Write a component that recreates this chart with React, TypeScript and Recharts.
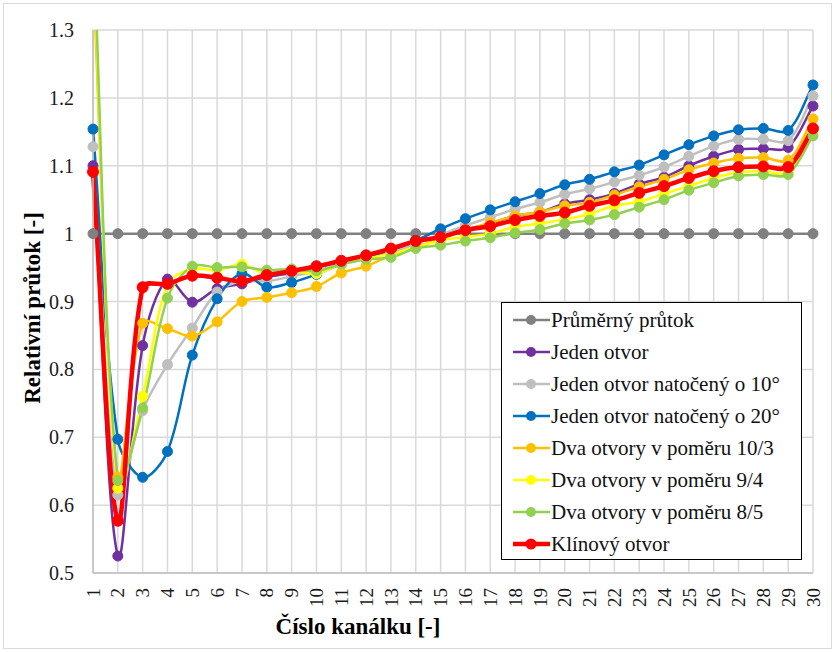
import { LineChart, Line, XAxis, YAxis, CartesianGrid, Legend } from 'recharts'

const kanalky = [1, 2, 3, 4, 5, 6, 7, 8, 9, 10, 11, 12, 13, 14, 15, 16, 17, 18, 19, 20, 21, 22, 23, 24, 25, 26, 27, 28, 29, 30]
const yTicks = [0.5, 0.6, 0.7, 0.8, 0.9, 1, 1.1, 1.2, 1.3]

const prumerny = [1, 1, 1, 1, 1, 1, 1, 1, 1, 1, 1, 1, 1, 1, 1, 1, 1, 1, 1, 1, 1, 1, 1, 1, 1, 1, 1, 1, 1, 1]
const jedenOtvor = [1.1, 0.525, 0.835, 0.933, 0.899, 0.919, 0.926, 0.936, 0.942, 0.95, 0.958, 0.966, 0.975, 0.986, 0.996, 1.006, 1.015, 1.026, 1.032, 1.044, 1.05, 1.059, 1.073, 1.083, 1.1, 1.114, 1.124, 1.125, 1.127, 1.188]
const natoceny10 = [1.128, 0.615, 0.739, 0.807, 0.861, 0.914, 0.93, 0.93, 0.937, 0.945, 0.955, 0.963, 0.972, 0.985, 0.998, 1.012, 1.024, 1.036, 1.046, 1.058, 1.066, 1.076, 1.086, 1.098, 1.114, 1.129, 1.139, 1.139, 1.137, 1.203]
const natoceny20 = [1.154, 0.697, 0.641, 0.679, 0.821, 0.904, 0.941, 0.921, 0.928, 0.94, 0.955, 0.965, 0.977, 0.99, 1.007, 1.022, 1.035, 1.047, 1.059, 1.072, 1.08, 1.091, 1.101, 1.116, 1.131, 1.144, 1.153, 1.155, 1.152, 1.219]
const pomer10_3 = [1.38, 0.641, 0.868, 0.86, 0.849, 0.87, 0.9, 0.906, 0.913, 0.922, 0.942, 0.952, 0.968, 0.98, 0.992, 1.005, 1.016, 1.026, 1.032, 1.041, 1.046, 1.057, 1.069, 1.08, 1.094, 1.104, 1.111, 1.112, 1.108, 1.169]
const pomer9_4 = [1.42, 0.625, 0.76, 0.925, 0.948, 0.946, 0.955, 0.94, 0.945, 0.941, 0.955, 0.963, 0.97, 0.98, 0.99, 0.995, 1.0, 1.01, 1.015, 1.021, 1.029, 1.041, 1.047, 1.059, 1.07, 1.082, 1.09, 1.092, 1.09, 1.15]
const pomer8_5 = [1.45, 0.636, 0.743, 0.905, 0.952, 0.95, 0.951, 0.946, 0.948, 0.945, 0.955, 0.962, 0.965, 0.978, 0.983, 0.989, 0.994, 1.001, 1.006, 1.015, 1.02, 1.028, 1.039, 1.05, 1.064, 1.075, 1.085, 1.087, 1.087, 1.144]
const klinovy = [1.091, 0.577, 0.921, 0.926, 0.938, 0.935, 0.93, 0.939, 0.945, 0.952, 0.96, 0.968, 0.978, 0.989, 0.995, 1.005, 1.011, 1.02, 1.026, 1.031, 1.041, 1.049, 1.06, 1.07, 1.082, 1.092, 1.098, 1.099, 1.098, 1.155]

const series = [
  { key: 'prumer', name: 'Průměrný průtok', color: '#808080', values: prumerny },
  { key: 'jeden', name: 'Jeden otvor', color: '#7030A0', values: jedenOtvor },
  { key: 'n10', name: 'Jeden otvor natočený o 10°', color: '#BFBFBF', values: natoceny10 },
  { key: 'n20', name: 'Jeden otvor natočený o 20°', color: '#0070C0', values: natoceny20 },
  { key: 'p103', name: 'Dva otvory v poměru 10/3', color: '#FFC000', values: pomer10_3 },
  { key: 'p94', name: 'Dva otvory v poměru 9/4', color: '#FFFF00', values: pomer9_4 },
  { key: 'p85', name: 'Dva otvory v poměru 8/5', color: '#92D050', values: pomer8_5 },
  { key: 'klin', name: 'Klínový otvor', color: '#FF0000', values: klinovy },
]

const data = kanalky.map((k, i) => {
  const row: Record<string, number> = { kanal: k }
  series.forEach(s => {
    row[s.key] = s.values[i]
  })
  return row
})

const FONT = '"Liberation Serif", "Times New Roman", serif'

// smoothed line similar to Excel: bezier, tangent weighted by neighbour segment lengths
function excelCurve(context: any) {
  let pts: number[][] = []
  const dist = (a: number[], b: number[]) => Math.hypot(b[0] - a[0], b[1] - a[1]) || 1e-6
  return {
    areaStart() {},
    areaEnd() {},
    lineStart() {
      pts = []
    },
    point(x: number, y: number) {
      pts.push([+x, +y])
    },
    lineEnd() {
      const n = pts.length
      if (!n) return
      context.moveTo(pts[0][0], pts[0][1])
      for (let i = 0; i < n - 1; i++) {
        const p0 = pts[i - 1] || pts[i]
        const p1 = pts[i]
        const p2 = pts[i + 1]
        const p3 = pts[i + 2] || p2
        const d01 = i > 0 ? dist(p0, p1) : 0
        const d12 = dist(p1, p2)
        const d23 = i + 2 < n ? dist(p2, p3) : 0
        const f1 = d12 / (d01 + d12) / 1.5
        const f2 = d12 / (d12 + d23) / 1.5
        context.bezierCurveTo(
          p1[0] + (p2[0] - p0[0]) * f1 * 0.5,
          p1[1] + (p2[1] - p0[1]) * f1 * 0.5,
          p2[0] - (p3[0] - p1[0]) * f2 * 0.5,
          p2[1] - (p3[1] - p1[1]) * f2 * 0.5,
          p2[0],
          p2[1]
        )
      }
    },
  }
}

function XTick({ x, y, payload }: any) {
  return (
    <g transform={`translate(${x},${y})`}>
      <text transform="rotate(-90)" textAnchor="end" dy="0.35em" fontSize={19} fontFamily={FONT} fill="#1a1a1a">
        {payload.value}
      </text>
    </g>
  )
}

function LegendBox() {
  return (
    <div
      style={{
        border: '1.5px solid #000',
        background: '#fff',
        boxSizing: 'border-box',
        width: 301,
        height: 258,
        paddingTop: 1,
        fontFamily: FONT,
        fontSize: 21,
        color: '#111',
      }}
    >
      {series.map(s => {
        const w = s.key === 'klin' ? 4.5 : 2.5
        return (
          <div key={s.key} style={{ display: 'flex', alignItems: 'center', height: 32, whiteSpace: 'nowrap' }}>
            <svg width={50} height={20} style={{ marginLeft: 10, flex: 'none' }}>
              <line x1={1} y1={10} x2={38} y2={10} stroke={s.color} strokeWidth={w} />
              <circle cx={19} cy={10} r={s.key === 'klin' ? 5.5 : 5} fill={s.color} />
            </svg>
            <span style={{ marginLeft: -11 }}>{s.name}</span>
          </div>
        )
      })}
    </div>
  )
}

export default function App() {
  return (
    <div style={{ position: 'absolute', left: 0, top: 0, width: 835, height: 652, background: '#fff' }}>
      <div
        style={{
          position: 'absolute',
          left: 3,
          top: 3,
          width: 827,
          height: 644,
          border: '1px solid #D9D9D9',
        }}
      />
      <LineChart width={835} height={652} data={data} margin={{ top: 30, right: 22, bottom: 39, left: 33 }}>
        <CartesianGrid stroke="#D9D9D9" strokeWidth={1.5} />
        <XAxis
          dataKey="kanal"
          type="number"
          domain={[1, 30]}
          ticks={kanalky}
          interval={0}
          height={40}
          tickSize={0}
          tickMargin={15}
          tick={<XTick />}
          axisLine={{ stroke: '#BFBFBF', strokeWidth: 1.5 }}
          tickLine={false}
        />
        <YAxis
          type="number"
          domain={[0.5, 1.3]}
          ticks={yTicks}
          allowDataOverflow
          width={60}
          tickSize={0}
          tickMargin={19}
          tickFormatter={(v: number) => String(parseFloat(v.toFixed(1)))}
          tick={{ fontSize: 20, fontFamily: FONT, fill: '#1a1a1a' }}
          axisLine={{ stroke: '#BFBFBF', strokeWidth: 1.5 }}
          tickLine={false}
        />
        <Legend
          layout="vertical"
          align="center"
          verticalAlign="middle"
          content={<LegendBox />}
          wrapperStyle={{ position: 'absolute', left: 501, top: 302, width: 301, height: 258 }}
        />
        {series.map(s => (
          <Line
            key={s.key}
            dataKey={s.key}
            name={s.name}
            type={excelCurve as any}
            stroke={s.color}
            strokeWidth={s.key === 'klin' ? 4.5 : 2.5}
            dot={{ r: s.key === 'klin' ? 5.5 : 5, fill: s.color, stroke: s.color, strokeWidth: 1 }}
            activeDot={false}
            isAnimationActive={false}
          />
        ))}
        <text
          x={358}
          y={634}
          textAnchor="middle"
          fontSize={23}
          fontWeight="bold"
          fontFamily={FONT}
          fill="#000"
        >
          Číslo kanálku [-]
        </text>
        <text
          transform="translate(40,308) rotate(-90)"
          textAnchor="middle"
          fontSize={23}
          fontWeight="bold"
          fontFamily={FONT}
          fill="#000"
        >
          Relativní průtok [-]
        </text>
      </LineChart>
    </div>
  )
}
